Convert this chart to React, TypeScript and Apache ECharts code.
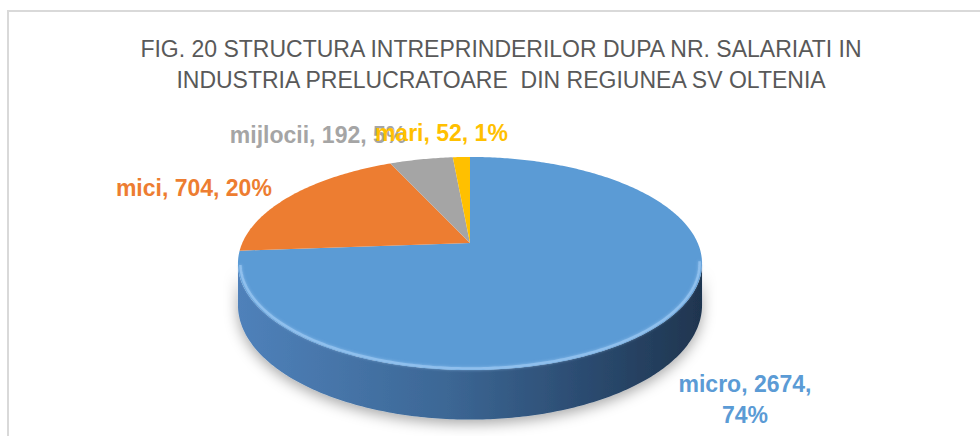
import React, { useEffect, useRef } from 'react';
import * as echarts from 'echarts';

// ---- data ----
const categories = ['micro', 'mici', 'mijlocii', 'mari'];
const values = [2674, 704, 192, 52];
const percentLabels = ['74%', '20%', '5%', '1%'];
const titleLines = [
  'FIG. 20 STRUCTURA INTREPRINDERILOR DUPA NR. SALARIATI IN',
  'INDUSTRIA PRELUCRATOARE  DIN REGIUNEA SV OLTENIA',
];

// ---- styles / layout ----
const FONT = "'Liberation Sans', Arial, sans-serif";
const topColors = ['#5B9BD5', '#ED7D31', '#A5A5A5', '#FFC000'];
const labelColors = ['#5B9BD5', '#ED7D31', '#A5A5A5', '#FFC000'];
const sideStops = [
  [
    { offset: 0, color: '#4f81ba' },
    { offset: 0.45, color: '#3c6795' },
    { offset: 0.75, color: '#2b4b70' },
    { offset: 1, color: '#1f354f' },
  ],
  [
    { offset: 0, color: '#c0652a' },
    { offset: 1, color: '#a8561f' },
  ],
  [
    { offset: 0, color: '#8a8a8a' },
    { offset: 1, color: '#7a7a7a' },
  ],
  [
    { offset: 0, color: '#d9a300' },
    { offset: 1, color: '#c89600' },
  ],
];
// label placement relative to slice mid-point on the rim: [dx, dy, align, wrap]
const labelLayout: [number, number, string, boolean][] = [
  [83, 76, 'center', true],
  [-20, -7, 'right', false],
  [-15, -24, 'right', false],
  [-20, -24, 'center', false],
];

// projection of the tilted disc (perspective)
const CX = 470;
const CY = 243;
const A = 227.7;
const B = 102.6;
const K = 0.1925;
const DEPTH = 40;
// visible (front-facing) part of the side wall
const SIDE_MIN = (Math.acos(-K) * 180) / Math.PI;
const SIDE_MAX = 360 - SIDE_MIN;

function proj(theta: number, r = 1, down = 0) {
  const t = (theta * Math.PI) / 180;
  const u = Math.sin(t) * r;
  const v = -Math.cos(t) * r;
  const w = 1 - K * v;
  return [CX + (A * u) / w, CY + (B * v) / w + down / w];
}

function rimPoints(a: number, b: number, r = 1, down = 0) {
  const pts: number[][] = [];
  const n = Math.max(2, Math.ceil(Math.abs(b - a) / 0.75));
  for (let i = 0; i <= n; i++) {
    pts.push(proj(a + ((b - a) * i) / n, r, down));
  }
  return pts;
}

export default function App() {
  const ref = useRef<HTMLDivElement>(null);
  useEffect(() => {
    if (!ref.current) return;
    const chart = echarts.init(ref.current, null, { renderer: 'svg' });
    const total = values.reduce((s, v) => s + v, 0);

    const renderItem = (params: any, api: any) => {
      const idx = params.dataIndex;
      const val = api.value(0);
      let before = 0;
      for (let i = 0; i < idx; i++) before += values[i];
      const start = (before / total) * 360;
      const end = ((before + val) / total) * 360;
      const children: any[] = [];

      // side wall (front-facing part only)
      const a = Math.max(start, SIDE_MIN);
      const b = Math.min(end, SIDE_MAX);
      if (b > a) {
        const top = rimPoints(a, b);
        const bottom = rimPoints(a, b, 1, DEPTH).reverse();
        children.push({
          type: 'polygon',
          z2: 1,
          shape: { points: top.concat(bottom) },
          style: {
            fill: new echarts.graphic.LinearGradient(238, 0, 702, 0, sideStops[idx], true),
            shadowBlur: 14,
            shadowColor: 'rgba(0,0,0,0.35)',
            shadowOffsetY: 4,
          },
        });
      }

      // top face
      const pts = [[CX, CY]].concat(rimPoints(start, end));
      children.push({
        type: 'polygon',
        z2: 2,
        shape: { points: pts },
        style: { fill: topColors[idx] },
      });

      // bevel highlight along the front rim
      const ha = Math.max(start, 100);
      const hb = Math.min(end, 258);
      if (hb > ha) {
        children.push({
          type: 'polyline',
          z2: 3,
          shape: { points: rimPoints(ha, hb, 0.99) },
          style: {
            stroke: 'rgba(150,196,240,0.8)',
            lineWidth: 2.5,
            fill: null,
            shadowBlur: 3,
            shadowColor: 'rgba(150,196,240,0.9)',
          },
        });
      }

      // label
      const mid = (start + end) / 2;
      const anchor = proj(mid);
      const [dx, dy, align, wrap] = labelLayout[idx];
      const text = wrap
        ? `${categories[idx]}, ${val},\n${percentLabels[idx]}`
        : `${categories[idx]}, ${val}, ${percentLabels[idx]}`;
      children.push({
        type: 'text',
        z2: 10,
        style: {
          text,
          x: anchor[0] + dx,
          y: anchor[1] + dy,
          fill: labelColors[idx],
          fontSize: 23,
          fontWeight: 'bold',
          fontFamily: FONT,
          align,
          verticalAlign: 'middle',
          lineHeight: 31,
        },
      });

      return { type: 'group', children };
    };

    chart.setOption({
      animation: false,
      backgroundColor: '#ffffff',
      title: {
        text: titleLines.join('\n'),
        left: 496,
        top: 28,
        textAlign: 'center',
        textStyle: {
          fontSize: 23,
          fontWeight: 'normal',
          color: '#595959',
          fontFamily: FONT,
          lineHeight: 31,
        },
      },
      graphic: [
        {
          type: 'rect',
          z: -10,
          shape: { x: 8, y: 11, width: 1200, height: 800 },
          style: { fill: 'none', stroke: '#d9d9d9', lineWidth: 2 },
        },
      ],
      series: [
        {
          type: 'custom',
          coordinateSystem: 'none',
          renderItem,
          data: values.map((v, i) => ({ name: categories[i], value: [v] })),
        },
      ],
    });
    return () => chart.dispose();
  }, []);
  return (
    <div
      ref={ref}
      style={{ position: 'fixed', left: 0, top: 0, width: 980, height: 436 }}
    />
  );
}
